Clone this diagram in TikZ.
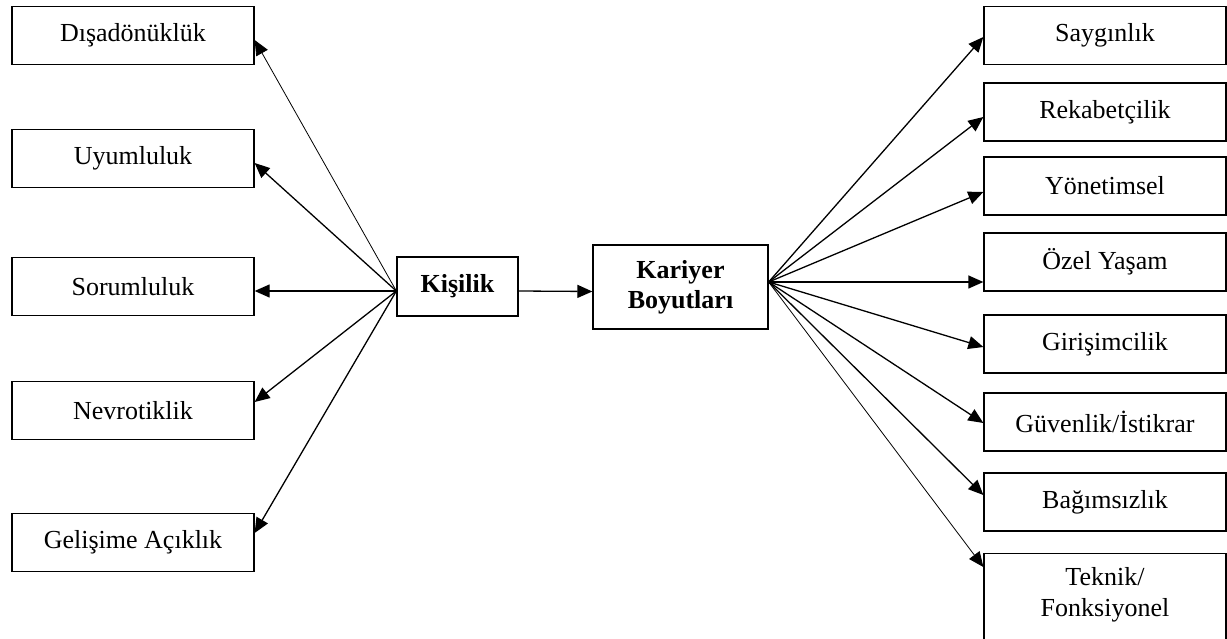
\documentclass[tikz,border=0pt]{standalone}
\usepackage{fontspec}
\setmainfont{Liberation Serif}
\usetikzlibrary{arrows.meta}
\begin{document}
\begin{tikzpicture}[x=1pt,y=-1pt,
  box/.style={draw,line width=1.3pt,minimum width=242pt,minimum height=58pt,inner sep=0pt,align=center,
    font=\fontsize{26}{30}\selectfont},
  cbox/.style={box,font=\fontsize{26}{30}\selectfont\bfseries},
  conn/.style={line width=1.3pt,-{Triangle[length=15pt,width=13pt]}},
  thinconn/.style={conn,line width=0.8pt}]
\useasboundingbox (0,0) rectangle (1227,639);
\clip (0,0) rectangle (1227,639);
% left boxes
\node[box] (dis) at (133,35.5) {Dışadönüklük};
\node[box] (uyu) at (133,158.5) {Uyumluluk};
\node[box] (sor) at (133,286.5) {Sorumluluk};
\node[box] (nev) at (133,410.5) {Nevrotiklik};
\node[box] (gel) at (133,542.5) {Gelişime Açıklık};
% centre boxes
\node[cbox,minimum width=121pt,minimum height=59pt] (kis) at (457.5,286.5) {Kişilik};
\node[cbox,minimum width=175pt,minimum height=84pt] (kar) at (680.5,287) {Kariyer\\Boyutları};
% right boxes
\node[box] (say) at (1105,35.5) {Saygınlık};
\node[box] (rek) at (1105,112) {Rekabetçilik};
\node[box] (yon) at (1105,186) {Yönetimsel};
\node[box] (oze) at (1105,262) {Özel Yaşam};
\node[box] (gir) at (1105,344) {Girişimcilik};
\node[box] (guv) at (1105,422) {Güvenlik/İstikrar};
\node[box] (bag) at (1105,502) {Bağımsızlık};
\node[box,minimum height=100pt,anchor=north] (tek) at (1105,553) {};
\node[font=\fontsize{26}{31}\selectfont,align=center,anchor=north] (tektxt) at (1105,564) {Teknik/\\Fonksiyonel};
% source points
\coordinate (ks) at ([yshift=-4.5pt]kis.west);
\coordinate (kr) at ([yshift=5pt]kar.east);
% left connectors
\draw[thinconn] (ks) -- ([yshift=-4.5pt]dis.east);
\draw[conn] (ks) -- ([yshift=-4.5pt]uyu.east);
\draw[conn] (ks) -- ([yshift=-4.5pt]sor.east);
\draw[conn] (ks) -- ([yshift=8.5pt]nev.east);
\draw[conn] (ks) -- ([yshift=9.5pt]gel.east);
% middle
\draw[conn] ([yshift=-4.5pt]kis.east) -- ([yshift=-4.5pt]kar.west);
% right connectors
\draw[conn] (kr) -- ([yshift=-1.5pt]say.west);
\draw[conn] (kr) -- ([yshift=-5pt]rek.west);
\draw[conn] (kr) -- ([yshift=-6pt]yon.west);
\draw[conn] (kr) -- (kr -| oze.west);
\draw[conn] (kr) -- ([yshift=-3pt]gir.west);
\draw[conn] (kr) -- ([yshift=-1pt]guv.west);
\draw[conn] (kr) -- ([yshift=7pt]bag.west);
\draw[thinconn] (kr) -- ([yshift=-14pt]tek.north west);
\end{tikzpicture}
\end{document}
